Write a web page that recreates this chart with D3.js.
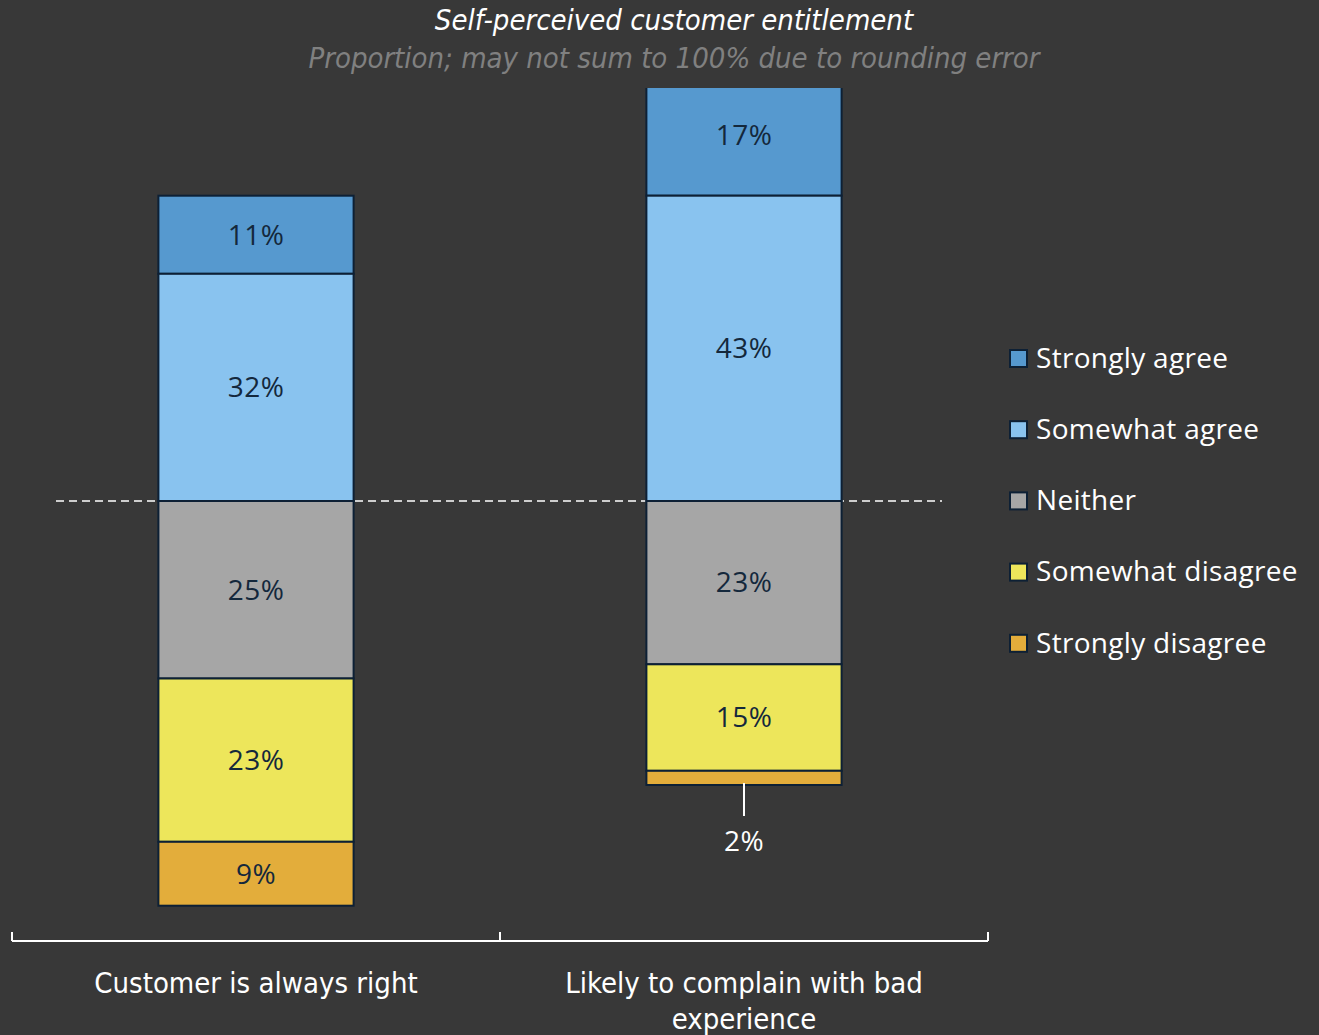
<!DOCTYPE html>
<html>
<head>
<meta charset="utf-8">
<script src="https://cdn.jsdelivr.net/npm/d3@7"></script>
<style>
  html, body { margin: 0; padding: 0; background: #383838; }
  svg { display: block; }
</style>
</head>
<body>
<svg id="chart" width="1319" height="1035"></svg>
<script>
// Survey answers, in percent
const categories = ["Customer is always right", "Likely to complain with bad experience"];
const responses = ["Strongly agree", "Somewhat agree", "Neither", "Somewhat disagree", "Strongly disagree"];
const stronglyAgree    = [11, 17];
const somewhatAgree    = [32, 43];
const neither          = [25, 23];
const somewhatDisagree = [23, 15];
const stronglyDisagree = [9, 2];
const colors = ["#5699cf", "#89c3ef", "#a6a6a6", "#ede65b", "#e3ad3b"];

const title = "Self-perceived customer entitlement";
const subtitle = "Proportion; may not sum to 100% due to rounding error";

const svg = d3.select("#chart");
const narrow = "'Liberation Sans Narrow', 'DejaVu Sans Condensed', sans-serif";
const regular = "'Open Sans', Lato, sans-serif";

const x = d3.scaleBand().domain(categories).range([12, 988]).paddingInner(0).paddingOuter(0);
const barW = x.bandwidth() * 0.4;
// baseline sits between agree and neutral answers
const y = d3.scaleLinear().domain([0, 100]).range([501, -209]);
const plotTop = 88;

svg.append("defs").append("clipPath").attr("id", "plot")
  .append("rect").attr("x", 0).attr("y", plotTop).attr("width", 1000).attr("height", 900);

// Titles
svg.append("text").attr("x", 674).attr("y", 30).attr("text-anchor", "middle")
  .attr("font-family", narrow).attr("font-style", "italic").attr("font-size", 29)
  .attr("fill", "#ffffff").text(title);
svg.append("text").attr("x", 674).attr("y", 68).attr("text-anchor", "middle")
  .attr("font-family", narrow).attr("font-style", "italic").attr("font-size", 29)
  .attr("fill", "#808080").text(subtitle);

// Dashed zero line behind bars
svg.append("line").attr("x1", 56).attr("x2", 942).attr("y1", y(0)).attr("y2", y(0))
  .attr("stroke", "#ffffff").attr("stroke-width", 1.6).attr("stroke-dasharray", "8,5");

// Build segments: agree stacks upward, others downward
const series = [stronglyAgree, somewhatAgree, neither, somewhatDisagree, stronglyDisagree];
const segs = [];
categories.forEach((c, i) => {
  const up1 = somewhatAgree[i], up2 = up1 + stronglyAgree[i];
  segs.push({c, k: 0, v: stronglyAgree[i], y0: up1, y1: up2});
  segs.push({c, k: 1, v: somewhatAgree[i], y0: 0, y1: up1});
  let d = 0;
  [2, 3, 4].forEach(k => {
    const v = series[k][i];
    segs.push({c, k, v, y0: -d - v, y1: -d});
    d += v;
  });
});

const g = svg.append("g").attr("clip-path", "url(#plot)");
g.selectAll("rect").data(segs).join("rect")
  .attr("x", d => x(d.c) + (x.bandwidth() - barW) / 2)
  .attr("width", barW)
  .attr("y", d => y(d.y1))
  .attr("height", d => y(d.y0) - y(d.y1))
  .attr("fill", d => colors[d.k])
  .attr("stroke", "#0d2035").attr("stroke-width", 2);

// Value labels
segs.forEach(d => {
  const cx = x(d.c) + x.bandwidth() / 2;
  const top = y(d.y1);
  const bot = y(d.y0);
  const label = d.v + "%";
  if (bot - top > 30) {
    svg.append("text").attr("x", cx).attr("y", (top + bot) / 2)
      .attr("dy", "0.35em").attr("text-anchor", "middle")
      .attr("font-family", regular).attr("font-size", 28).attr("fill", "#14283c")
      .attr("letter-spacing", 0.5).text(label);
  } else {
    svg.append("line").attr("x1", cx).attr("x2", cx)
      .attr("y1", bot - 2).attr("y2", bot + 31)
      .attr("stroke", "#ffffff").attr("stroke-width", 2);
    svg.append("text").attr("x", cx).attr("y", bot + 56)
      .attr("dy", "0.35em").attr("text-anchor", "middle")
      .attr("font-family", regular).attr("font-size", 28).attr("fill", "#ffffff")
      .attr("letter-spacing", 0.5).text(label);
  }
});

// Category axis with upward ticks at band edges
const axisY = 941;
const ax = svg.append("g");
ax.append("line").attr("x1", 12).attr("x2", 988).attr("y1", axisY).attr("y2", axisY)
  .attr("stroke", "#ffffff").attr("stroke-width", 2);
[12, 500, 988].forEach(t => {
  ax.append("line").attr("x1", t).attr("x2", t).attr("y1", axisY).attr("y2", axisY - 9)
    .attr("stroke", "#ffffff").attr("stroke-width", 2);
});
const catLines = {
  "Customer is always right": ["Customer is always right"],
  "Likely to complain with bad experience": ["Likely to complain with bad", "experience"]
};
categories.forEach(c => {
  const t = ax.append("text").attr("x", x(c) + x.bandwidth() / 2).attr("y", 993)
    .attr("text-anchor", "middle").attr("font-family", narrow).attr("font-size", 29)
    .attr("fill", "#ffffff");
  catLines[c].forEach((ln, j) => {
    t.append("tspan").attr("x", x(c) + x.bandwidth() / 2).attr("dy", j ? 36 : 0).text(ln);
  });
});

// Legend
const lg = svg.append("g");
responses.forEach((r, i) => {
  const cy = 358 + i * 71.2;
  lg.append("rect").attr("x", 1010).attr("y", cy - 8).attr("width", 17).attr("height", 17)
    .attr("fill", colors[i]).attr("stroke", "#0d2035").attr("stroke-width", 2);
  lg.append("text").attr("x", 1036).attr("y", cy).attr("dy", "0.35em")
    .attr("font-family", regular).attr("font-size", 28).attr("letter-spacing", 0.3)
    .attr("fill", "#ffffff").text(r);
});
</script>
</body>
</html>
